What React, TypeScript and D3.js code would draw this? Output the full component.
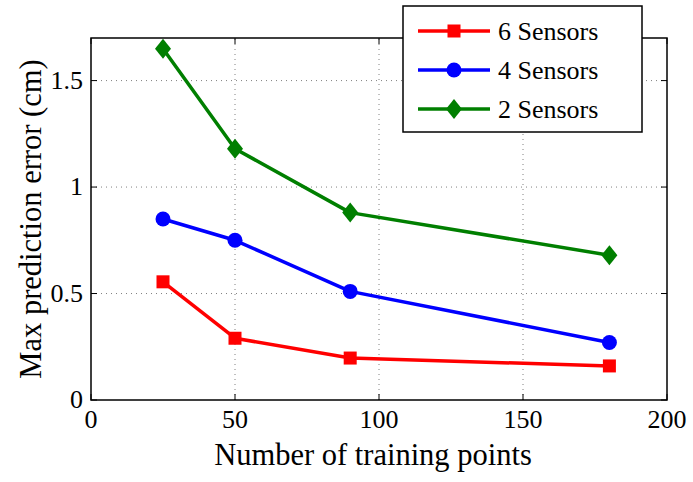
import React from "react";
import * as d3 from "d3";

const trainingPoints = [25, 50, 90, 180];
const sensors6 = [0.555, 0.29, 0.197, 0.16];
const sensors4 = [0.85, 0.75, 0.51, 0.27];
const sensors2 = [1.65, 1.18, 0.88, 0.68];
const seriesNames = ["6 Sensors", "4 Sensors", "2 Sensors"];
const xTicks = [0, 50, 100, 150, 200];
const yTicks = [0, 0.5, 1, 1.5];
const yTickLabels = ["0", "0.5", "1", "1.5"];

const W = 693;
const H = 482;
const margin = { left: 91, right: 26, top: 38, bottom: 82 };
const txt = { fontFamily: "Liberation Serif" };

type Shape = "square" | "circle" | "diamond";

function Marker({ x, y, shape, color }: { x: number; y: number; shape: Shape; color: string }) {
  if (shape === "square") return <rect x={x - 6.5} y={y - 6.5} width={13} height={13} fill={color} />;
  if (shape === "circle") return <circle cx={x} cy={y} r={7.5} fill={color} />;
  const p = d3.path();
  p.moveTo(x, y - 10);
  p.lineTo(x + 8, y);
  p.lineTo(x, y + 10);
  p.lineTo(x - 8, y);
  p.closePath();
  return <path d={p.toString()} fill={color} />;
}

export default function App() {
  const x = d3.scaleLinear().domain([0, 200]).range([margin.left, W - margin.right]);
  const y = d3.scaleLinear().domain([0, 1.7]).range([H - margin.bottom, margin.top]);
  const [x0, x1] = x.range();
  const [y0, y1] = y.range();

  const series = [
    { name: seriesNames[0], values: sensors6, color: "#ff0000", shape: "square" as Shape },
    { name: seriesNames[1], values: sensors4, color: "#0000ff", shape: "circle" as Shape },
    { name: seriesNames[2], values: sensors2, color: "#007f00", shape: "diamond" as Shape },
  ];

  const line = d3
    .line<number>()
    .x((_, i) => x(trainingPoints[i]))
    .y((d) => y(d));

  const tickLen = 6;

  return (
    <svg width={W} height={H} style={{ position: "absolute", left: 0, top: 0, background: "#fff" }}>
      <rect x={0} y={0} width={W} height={H} fill="#fff" />
      {/* grid */}
      {xTicks.slice(1, -1).map((t) => (
        <line key={"gx" + t} x1={x(t)} x2={x(t)} y1={y0} y2={y1} stroke="#808080" strokeWidth={1} strokeDasharray="1,4" />
      ))}
      {yTicks.slice(1).map((t) => (
        <line key={"gy" + t} x1={x0} x2={x1} y1={y(t)} y2={y(t)} stroke="#808080" strokeWidth={1} strokeDasharray="1,4" />
      ))}
      {/* ticks on all four sides */}
      {xTicks.map((t) => (
        <g key={"tx" + t} stroke="#000" strokeWidth={1}>
          <line x1={x(t)} x2={x(t)} y1={y0} y2={y0 - tickLen} />
          <line x1={x(t)} x2={x(t)} y1={y1} y2={y1 + tickLen} />
        </g>
      ))}
      {yTicks.map((t) => (
        <g key={"ty" + t} stroke="#000" strokeWidth={1}>
          <line x1={x0} x2={x0 + tickLen} y1={y(t)} y2={y(t)} />
          <line x1={x1} x2={x1 - tickLen} y1={y(t)} y2={y(t)} />
        </g>
      ))}
      {/* series */}
      {series.map((s) => (
        <g key={s.name}>
          <path d={line(s.values) ?? ""} fill="none" stroke={s.color} strokeWidth={3.5} strokeLinejoin="round" />
          {s.values.map((v, i) => (
            <Marker key={i} x={x(trainingPoints[i])} y={y(v)} shape={s.shape} color={s.color} />
          ))}
        </g>
      ))}
      {/* axes box */}
      <rect x={x0} y={y1} width={x1 - x0} height={y0 - y1} fill="none" stroke="#000" strokeWidth={1.5} />
      {/* tick labels */}
      {xTicks.map((t) => (
        <text key={"lx" + t} x={x(t)} y={y0 + 28} textAnchor="middle" style={txt} fontSize={26} fill="#000">
          {t}
        </text>
      ))}
      {yTicks.map((t, i) => (
        <text key={"ly" + t} x={x0 - 8} y={y(t) + 8} textAnchor="end" style={txt} fontSize={26} fill="#000">
          {yTickLabels[i]}
        </text>
      ))}
      {/* axis titles */}
      <text x={373} y={465} textAnchor="middle" style={txt} fontSize={30.5} fill="#000">
        Number of training points
      </text>
      <text
        transform={`translate(41,${(y0 + y1) / 2}) rotate(-90)`}
        textAnchor="middle"
        style={txt}
        fontSize={30.5}
        fill="#000"
      >
        Max prediction error (cm)
      </text>
      {/* legend */}
      <g>
        <rect x={403} y={6} width={239} height={126} fill="#fff" stroke="#000" strokeWidth={1.5} />
        {series.map((s, i) => {
          const ly = 31 + i * 39;
          return (
            <g key={"lg" + s.name}>
              <line x1={418} x2={490} y1={ly} y2={ly} stroke={s.color} strokeWidth={3.5} />
              <Marker x={454} y={ly} shape={s.shape} color={s.color} />
              <text x={498} y={ly + 9} style={txt} fontSize={26} fill="#000">
                {s.name}
              </text>
            </g>
          );
        })}
      </g>
    </svg>
  );
}
